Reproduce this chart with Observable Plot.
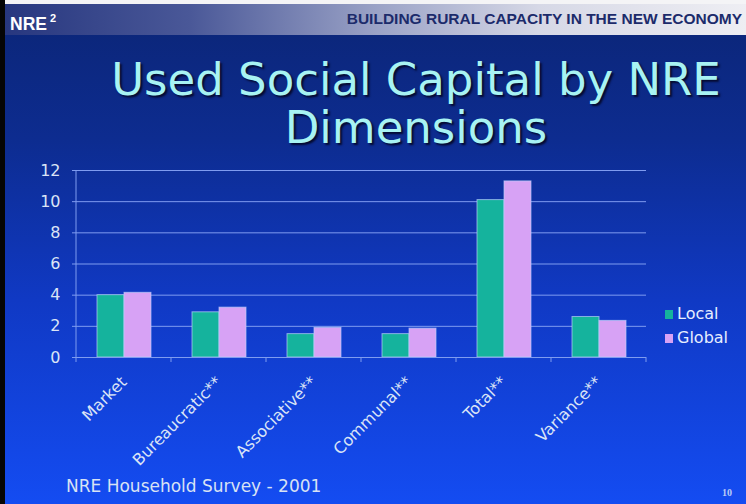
<!DOCTYPE html>
<html>
<head>
<meta charset="utf-8">
<script src="https://cdn.jsdelivr.net/npm/d3@7"></script>
<script src="https://cdn.jsdelivr.net/npm/@observablehq/plot@0.6"></script>
<style>
  html, body { margin: 0; padding: 0; background: #000; }
  #slide { position: relative; width: 746px; height: 504px; overflow: hidden;
    background: linear-gradient(to bottom, #0b2575 0px, #0d2c90 140px, #1039c4 300px, #144cf2 504px);
    font-family: "DejaVu Sans", sans-serif; }
  #topstrip { position: absolute; left: 0; top: 0; width: 746px; height: 4px; background: #f4f4f6; }
  #leftbar { position: absolute; left: 0; top: 0; width: 5px; height: 504px; background: #050505; }
  #header { position: absolute; left: 5px; top: 4px; width: 741px; height: 31px;
    background: linear-gradient(to right, #27377f 0%, #4a5898 25%, #9aa2c6 50%, #d6d8e6 72%, #eeeef3 100%); }
  #brand { position: absolute; left: 10px; top: 8px; font-family: "Liberation Sans", Arial, sans-serif;
    font-weight: bold; font-size: 17.5px; color: #ffffff; line-height: 20px; }
  #brand sup { font-size: 11px; vertical-align: 8px; margin-left: 3px; }
  #tagline { position: absolute; right: 4px; top: 11px; font-family: "Liberation Sans", Arial, sans-serif;
    font-weight: bold; font-size: 15.5px; color: #1c2b6b; line-height: 16px; white-space: nowrap; }
  #title { position: absolute; left: 86px; width: 660px; top: 56px; text-align: center;
    font-family: "DejaVu Sans", sans-serif; font-size: 45px; line-height: 48px; color: #a8f3f3;
    text-shadow: 2px 2px 2px #050a30; }
  #chart { position: absolute; left: 0; top: 150px; }
  #legend { position: absolute; left: 665px; top: 302px; font-size: 16px; color: #e6eeff; line-height: 24px; }
  .item { display: flex; align-items: center; }
  .sw { width: 8px; height: 9px; margin-right: 4px; display: inline-block; }
  #caption { position: absolute; left: 66px; top: 476px; font-size: 17px; color: #d8e2f4; line-height: 20px; }
  #pageno { position: absolute; left: 722px; top: 487px; font-family: "Liberation Serif", serif; font-size: 10px;
    font-weight: bold; color: #bccbf5; }
</style>
</head>
<body>
<div id="slide">
  <div id="topstrip"></div>
  <div id="header"></div>
  <div id="leftbar"></div>
  <div id="brand">NRE<sup>2</sup></div>
  <div id="tagline">BUILDING RURAL CAPACITY IN THE NEW ECONOMY</div>
  <div id="title">Used Social Capital by NRE<br>Dimensions</div>
  <div id="chart"></div>
  <div id="legend"></div>
  <div id="caption">NRE Household Survey - 2001</div>
  <div id="pageno">10</div>
</div>
<script>
// ---- data ----
const categories = ["Market", "Bureaucratic**", "Associative**", "Communal**", "Total**", "Variance**"];
const series = ["Local", "Global"];
const localValues = [4.0, 2.9, 1.5, 1.5, 10.1, 2.6];
const globalValues = [4.15, 3.2, 1.9, 1.85, 11.3, 2.35];
const yTicks = [0, 2, 4, 6, 8, 10, 12];
const seriesColors = ["#15b39d", "#d7a2f5"];

// ---- styles ----
const gridColor = "#7f9cf0";
const labelColor = "#dbe4f6";

const data = categories.flatMap((c, i) => [
  {category: c, series: series[0], value: localValues[i]},
  {category: c, series: series[1], value: globalValues[i]}
]);

function axisFrame(index, scales, values, dims) {
  const left = dims.marginLeft, right = dims.width - dims.marginRight;
  const n = categories.length;
  const fx = scales.fx;
  const useFx = fx && typeof fx.bandwidth === "function";
  const edges = categories.map((c, i) => useFx ? fx(c) : left + i * (right - left) / n);
  edges.push(useFx ? fx(categories[n - 1]) + fx.bandwidth() : right);
  const y = scales.y;
  const y0 = y ? y(0) : dims.height - dims.marginBottom;
  const yTop = y ? y(yTicks[yTicks.length - 1]) : dims.marginTop;
  const g = d3.create("svg:g").attr("stroke", gridColor).attr("fill", "none");
  g.append("line").attr("x1", edges[0]).attr("x2", edges[0]).attr("y1", yTop).attr("y2", y0);
  for (const e of edges) {
    g.append("line").attr("x1", e).attr("x2", e).attr("y1", y0).attr("y2", y0 + 5);
  }
  return g.node();
}

const chart = Plot.plot({
  width: 746,
  height: 330,
  marginLeft: 74,
  marginRight: 98,
  marginTop: 20,
  marginBottom: 123,
  style: {background: "transparent", fontFamily: "DejaVu Sans, sans-serif", fontSize: "16px", color: labelColor, overflow: "visible"},
  fx: {domain: categories, padding: 0, label: null},
  x: {domain: series, paddingInner: 0, paddingOuter: 0.72, axis: null},
  y: {domain: [0, 12], label: null},
  color: {domain: series, range: seriesColors},
  marks: [
    Plot.gridY(yTicks, {stroke: gridColor, strokeOpacity: 1, strokeWidth: 1}),
    Plot.axisY({ticks: yTicks, tickSize: 4, tickPadding: 12, stroke: gridColor, fill: labelColor, fontSize: 16, label: null}),
    Plot.barY(data, {fx: "category", x: "series", y: "value", fill: "series", stroke: "#b9cdfb", strokeWidth: 1, strokeOpacity: 0.7}),
    Plot.ruleY([0], {stroke: gridColor}),
    Plot.axisFx({anchor: "bottom", tickSize: 0, tickPadding: 22, tickRotate: -45, fontSize: 16, fill: labelColor, label: null}),
    Plot.frame({facet: "super", stroke: "none", render: axisFrame})
  ]
});
document.getElementById("chart").appendChild(chart);

// legend
const legend = document.getElementById("legend");
series.forEach((s, i) => {
  const item = document.createElement("div");
  item.className = "item";
  const sw = document.createElement("span");
  sw.className = "sw";
  sw.style.background = seriesColors[i];
  item.appendChild(sw);
  item.appendChild(document.createTextNode(s));
  legend.appendChild(item);
});
</script>
</body>
</html>
